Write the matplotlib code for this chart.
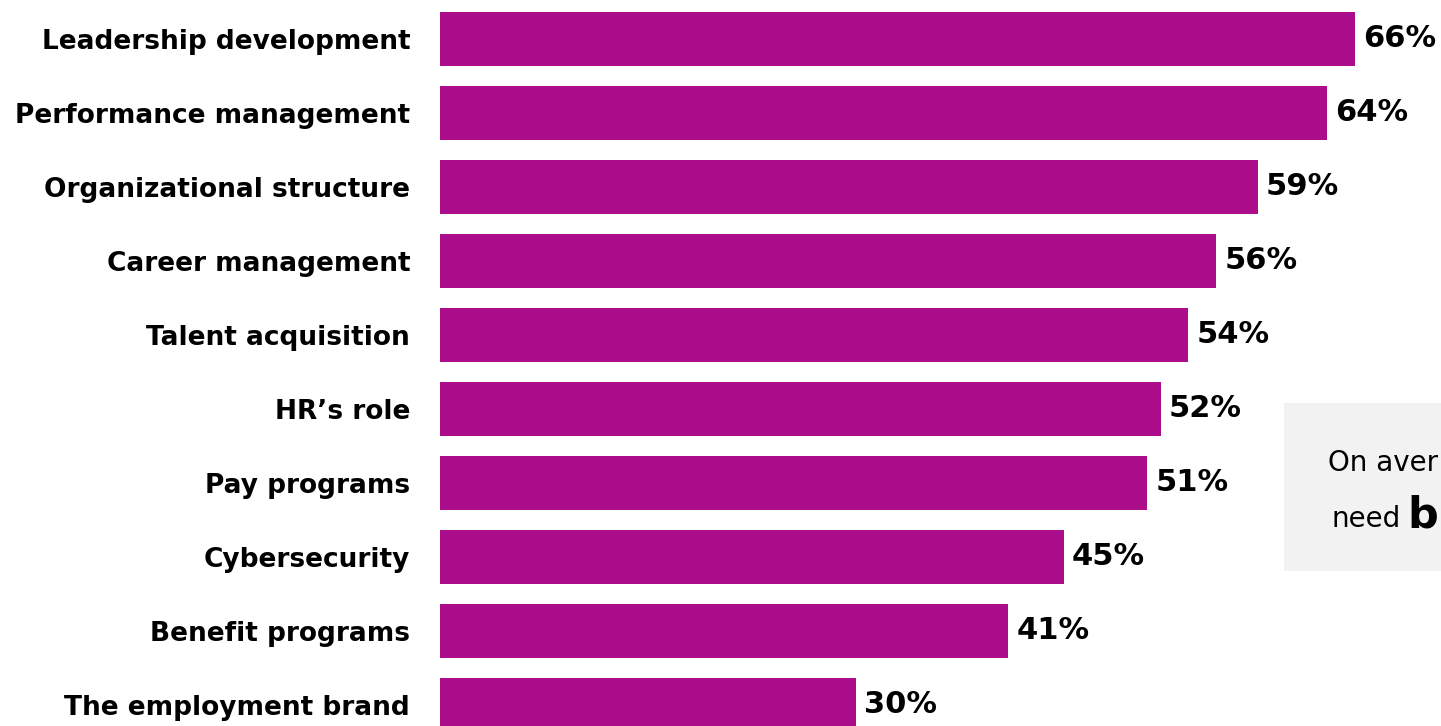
import matplotlib
matplotlib.use("Agg")
import matplotlib.pyplot as plt
from matplotlib.patches import Rectangle

categories = ["Leadership development", "Performance management", "Organizational structure",
              "Career management", "Talent acquisition", "HR\u2019s role", "Pay programs",
              "Cybersecurity", "Benefit programs", "The employment brand"]
values = [66, 64, 59, 56, 54, 52, 51, 45, 41, 30]

W, H = 1441, 726
fig = plt.figure(figsize=(W / 100, H / 100), dpi=100)
ax = fig.add_axes([440 / W, 0, 1 - 440 / W, 1])

# bars
ypos = list(range(len(categories)))
ax.barh(ypos, values, height=0.73, color="#AC0E8B")
ax.set_xlim(0, 1001 / 13.86)
ax.set_ylim(9.284, -0.527)

# category labels
ax.set_yticks(ypos)
ax.set_yticklabels(categories, fontsize=19, fontweight="bold", family="DejaVu Sans")
ax.tick_params(axis="y", length=0, pad=21.5)
ax.set_xticks([])
for s in ax.spines.values():
    s.set_visible(False)

# value labels
for y, v in zip(ypos, values):
    ax.annotate(f"{v}%", (v, y), xytext=(6, 0), textcoords="offset points",
                va="center", ha="left", fontsize=22, fontweight="bold", family="DejaVu Sans")

# grey callout box on the right (cut off by the canvas)
fig.add_artist(Rectangle((1284 / W, 1 - 571 / H), 0.5, 168 / H, transform=fig.transFigure,
                         facecolor="#F2F2F2", edgecolor="none", zorder=1))
fig.text(1328 / W, 1 - 471 / H, "On aver", fontsize=20, va="baseline", ha="left",
         family="DejaVu Sans", zorder=3)
fig.text(1332 / W, 1 - 527 / H, "need", fontsize=20, va="baseline", ha="left",
         family="DejaVu Sans", zorder=3)
fig.text(1407 / W, 1 - 527 / H, "b", fontsize=31, fontweight="bold", va="baseline",
         ha="left", family="DejaVu Sans", zorder=3)

fig.savefig("out.png", dpi=100)
